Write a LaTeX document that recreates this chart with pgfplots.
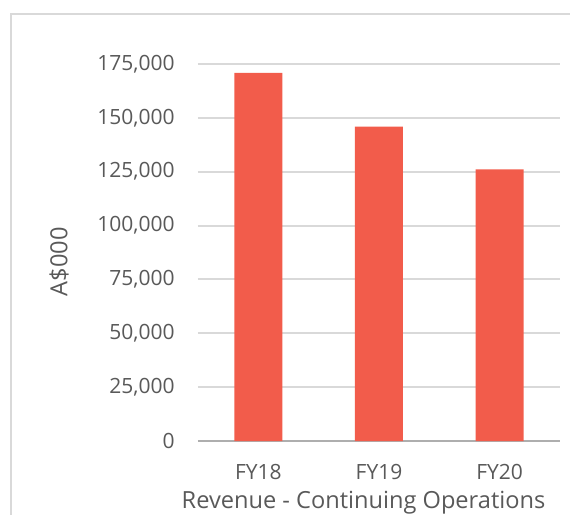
\documentclass[border=0pt]{standalone}
\usepackage{fontspec}
\setmainfont{Open Sans}
\usepackage{pgfplots}
\pgfplotsset{compat=1.18}
\definecolor{barred}{RGB}{242,92,75}
\definecolor{txtgrey}{RGB}{89,89,89}
\definecolor{gridgrey}{RGB}{217,217,217}
\begin{document}
\begin{tikzpicture}
\useasboundingbox (0,0) rectangle (285pt,-257.5pt);
% outer chart frame (runs past the right and bottom edges)
\draw[gridgrey, line width=1pt] (5.5pt,-272pt) -- (5.5pt,-7pt) -- (300pt,-7pt);
\begin{axis}[
    at={(99pt,-220.5pt)}, anchor=south west,
    scale only axis,
    width=181pt, height=188.5pt,
    ybar, bar width=24pt,
    xmin=-0.5, xmax=2.5,
    ymin=0, ymax=175000,
    xtick={0,1,2}, xticklabels={FY18,FY19,FY20},
    ytick={0,25000,...,175000},
    scaled y ticks=false,
    /pgf/number format/assume math mode=true,
    yticklabel={\pgfmathprintnumber[fixed,1000 sep={,}]{\tick}},
    tick label style={text=txtgrey, font=\fontsize{10.5}{13}\selectfont},
    yticklabel style={anchor=east, inner sep=0pt, xshift=-11.5pt},
    xticklabel style={anchor=base, inner sep=0pt, yshift=-19pt},
    major tick length=0pt,
    ymajorgrids, grid style={gridgrey, line width=1pt},
    axis line style={draw=none},
    axis x line*=bottom, axis y line*=left,
    extra y ticks={0}, extra y tick labels={},
    extra y tick style={grid style={color=gridgrey!80!black, line width=1pt}},
    ylabel={A\$000},
    xlabel={Revenue - Continuing Operations},
    every axis y label/.style={at={(axis description cs:-0.384,0.475)}, rotate=90, anchor=center,
        text=txtgrey, font=\fontsize{11.8}{14}\selectfont},
    every axis x label/.style={at={(axis description cs:0.5,0)}, anchor=base, xshift=-7.75pt, yshift=-33.5pt,
        text=txtgrey, font=\fontsize{11.8}{14}\selectfont},
]
\addplot[fill=barred, draw=none] coordinates {(0,170900) (1,145900) (2,126100)};
\end{axis}
\end{tikzpicture}
\end{document}
